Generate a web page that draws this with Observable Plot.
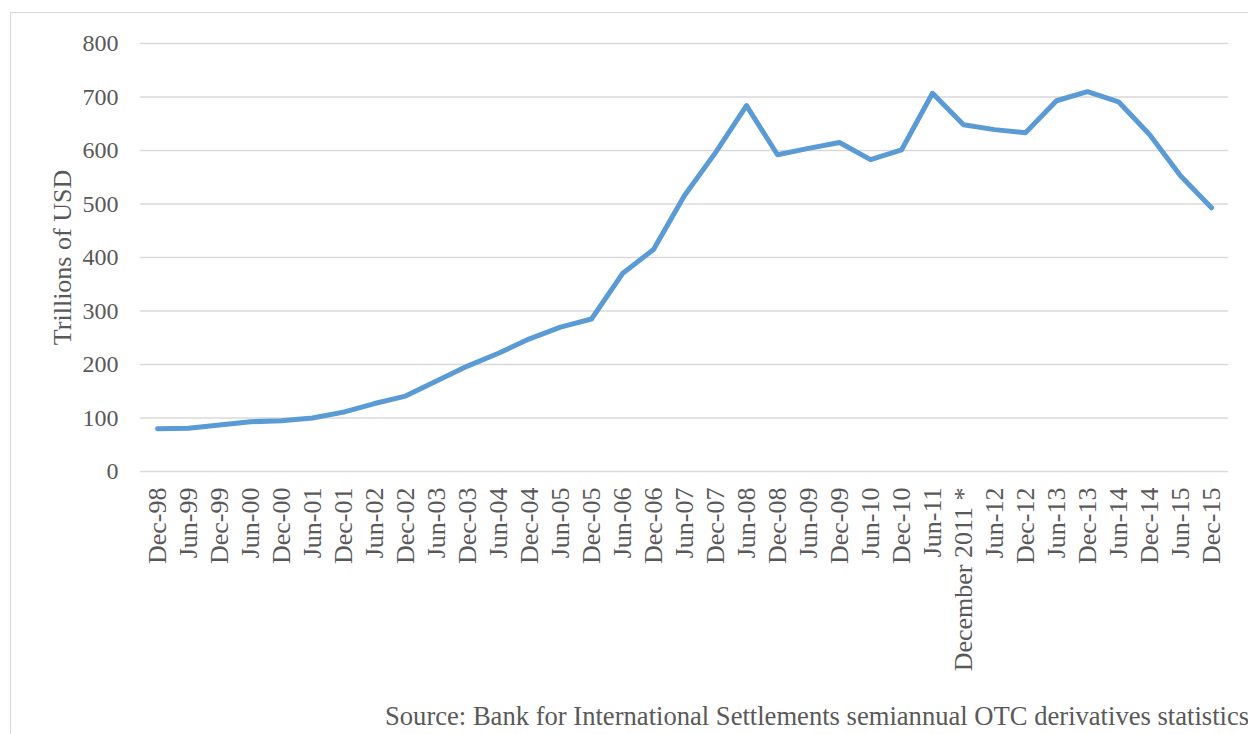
<!DOCTYPE html>
<html>
<head>
<meta charset="utf-8">
<script src="https://cdn.jsdelivr.net/npm/d3@7"></script>
<script src="https://cdn.jsdelivr.net/npm/@observablehq/plot@0.6"></script>
<style>
  html, body { margin: 0; padding: 0; background: #fff; overflow: hidden; width: 1248px; height: 734px; }
  #frame { position: absolute; left: 10px; top: 12px; width: 1300px; height: 800px; border: 1.5px solid #d9d9d9; box-sizing: border-box; }
  #chart { position: absolute; left: 0; top: 0; }
  #source { position: absolute; left: 385px; top: 703px; line-height: 1; font-family: "Liberation Serif", serif; font-size: 26.6px; color: #595959; white-space: nowrap; }
</style>
</head>
<body>
<div id="frame"></div>
<div id="chart"></div>
<div id="source">Source: Bank for International Settlements semiannual OTC derivatives statistics</div>
<script>
const periods = ["Dec-98","Jun-99","Dec-99","Jun-00","Dec-00","Jun-01","Dec-01","Jun-02","Dec-02","Jun-03","Dec-03","Jun-04","Dec-04","Jun-05","Dec-05","Jun-06","Dec-06","Jun-07","Dec-07","Jun-08","Dec-08","Jun-09","Dec-09","Jun-10","Dec-10","Jun-11","December 2011 *","Jun-12","Dec-12","Jun-13","Dec-13","Jun-14","Dec-14","Jun-15","Dec-15"];
const notional = [80,81,87,93,95,100,111,127,141,169,197,221,248,270,285,370,415,516,596,684,592,604,615,583,601,707,648,639,633,693,710,691,630,553,493];
const yTicks = [0,100,200,300,400,500,600,700,800];
const yTitle = "Trillions of USD";

const data = periods.map((p, i) => ({period: p, value: notional[i]}));

const chart = Plot.plot({
  width: 1248,
  height: 734,
  marginLeft: 140,
  marginRight: 20,
  marginTop: 43,
  marginBottom: 263,
  style: {fontFamily: "'Liberation Serif', serif", fontSize: "24px", color: "#595959", background: "transparent"},
  x: {type: "point", domain: periods, padding: 0.5},
  y: {domain: [0, 800]},
  marks: [
    Plot.gridY(yTicks, {stroke: "#d9d9d9", strokeOpacity: 1, strokeWidth: 1.5}),
    Plot.axisY(yTicks, {tickSize: 0, tickPadding: 22, label: null, fontSize: 24}),
    Plot.axisX({tickRotate: -90, tickSize: 0, tickPadding: 16, label: null, fontSize: 26}),
    Plot.text([yTitle], {frameAnchor: "left", dx: -78, rotate: -90, textAnchor: "middle", fontSize: 26, fill: "#595959"}),
    Plot.line(data, {x: "period", y: "value", stroke: "#5b9bd5", strokeWidth: 5, strokeLinejoin: "round", strokeLinecap: "round"})
  ]
});
document.getElementById("chart").appendChild(chart);
</script>
</body>
</html>
